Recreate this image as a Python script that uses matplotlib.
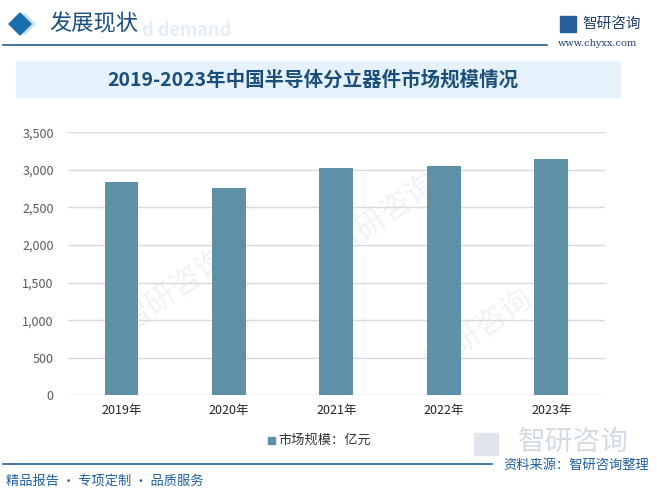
import matplotlib
matplotlib.use("Agg")
import matplotlib.pyplot as plt
from matplotlib.patches import Rectangle, Polygon
from matplotlib.lines import Line2D

plt.rcParams['font.family'] = ['Noto Sans CJK SC', 'DejaVu Sans']

# data
years = ["2019年", "2020年", "2021年", "2022年", "2023年"]
market_size = [2840, 2760, 3030, 3055, 3150]
yticks = [0, 500, 1000, 1500, 2000, 2500, 3000, 3500]
legend_label = "市场规模：亿元"
title = "2019-2023年中国半导体分立器件市场规模情况"

W, H = 657, 495
fig = plt.figure(figsize=(W / 100, H / 100), dpi=100)

def fx(x): return x / W
def fy(y): return 1 - y / H

# faint watermarks (behind the chart)
wm = "#eef3f7"
for x, y in [(175, 290), (385, 215), (480, 330)]:
    fig.text(fx(x), fy(y), "智研咨询", fontsize=22, color=wm, rotation=35,
             ha="center", va="center", zorder=-1)
fig.text(fx(142), fy(30), "d demand", fontsize=13, color="#e4eef6", weight="bold",
         ha="left", va="center", zorder=-1)

# header
fig.patches.append(Polygon([(fx(25), fy(14)), (fx(35), fy(24)), (fx(25), fy(34)), (fx(15), fy(24))],
                           closed=True, transform=fig.transFigure, color="#c5dcec", zorder=1))
fig.patches.append(Polygon([(fx(20), fy(13)), (fx(31), fy(24)), (fx(20), fy(35)), (fx(9), fy(24))],
                           closed=True, transform=fig.transFigure, color="#1a6fad", zorder=2))
fig.text(fx(49), fy(24), "发展现状", fontsize=16, color="#1a4f80", ha="left", va="center")
fig.add_artist(Line2D([fx(3), fx(547)], [fy(45), fy(45)], color="#1f5f8f", lw=1.2))
fig.patches.append(Rectangle((fx(560), fy(32)), 16 / W, 16 / H, transform=fig.transFigure,
                             color="#2a5f9e", zorder=2))
fig.text(fx(582), fy(24), "智研咨询", fontsize=10.5, color="#1f3f6f", ha="left", va="center")
fig.text(fx(597), fy(44), "www.chyxx.com", fontsize=7, color="#1f3f6f", ha="center", va="center",
         family="DejaVu Serif")

# title banner
fig.patches.append(Rectangle((fx(16), fy(97)), 604 / W, 36 / H, transform=fig.transFigure,
                             color="#e6f2fb", zorder=1))
fig.text(fx(313), fy(80), title, fontsize=14, weight="bold", color="#1b4f7a",
         ha="center", va="center")

# chart
ax = fig.add_axes([fx(67.7), fy(395.3), (605 - 67.7) / W, (395.3 - 132.3) / H])
ax.patch.set_alpha(0)
x = range(len(years))
ax.bar(x, market_size, width=0.315, color="#5e90a8", zorder=3)
ax.set_xlim(-0.5, len(years) - 0.5)
ax.set_ylim(0, 3500)
ax.set_yticks(yticks)
ax.set_yticklabels([f"{v:,}" for v in yticks])
ax.set_xticks(list(x))
ax.set_xticklabels(years)
ax.grid(axis="y", color="#d9d9d9", lw=1, zorder=0)
for s in ax.spines.values():
    s.set_visible(False)
ax.tick_params(axis="both", length=0)
ax.tick_params(axis="y", labelsize=9, labelcolor="#595959", pad=10)
ax.tick_params(axis="x", labelsize=9, labelcolor="#222222", pad=6)

# legend
fig.patches.append(Rectangle((fx(268), fy(444)), 7 / W, 7 / H, transform=fig.transFigure,
                             color="#5e90a8", zorder=2))
fig.text(fx(278), fy(440), legend_label, fontsize=9.5, color="#333333", ha="left", va="center")

# footer
fig.patches.append(Rectangle((fx(474), fy(455)), 24 / W, 22 / H, transform=fig.transFigure,
                             color="#dfe5eb", zorder=1))
fig.text(fx(573), fy(442), "智研咨询", fontsize=20, color="#d3dbe3", ha="center", va="center", zorder=1)
fig.add_artist(Line2D([fx(3), fx(492)], [fy(464), fy(464)], color="#1f5f8f", lw=1.2))
fig.text(fx(649), fy(465), "资料来源：智研咨询整理", fontsize=9.5, color="#1f5f9f",
         ha="right", va="center", zorder=3)
fig.text(fx(6), fy(481), "精品报告 · 专项定制 · 品质服务", fontsize=9.5, color="#1f5f9f",
         ha="left", va="center")

fig.savefig("out.png", dpi=100)
